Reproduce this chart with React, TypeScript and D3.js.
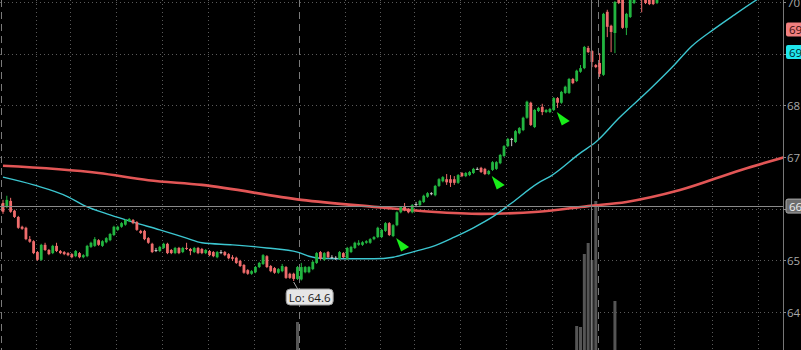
import React from 'react';
import * as d3 from 'd3';

const W = 801;
const H = 350;
const PLOT_RIGHT = 783;

// OHLC of the 5-minute candles (visible part of the chart)
const opens = [
  66.11, 66.03, 66.15, 65.96, 65.84, 65.65, 65.63, 65.41, 65.37, 65.16,
  65.01, 65.30, 65.20, 65.14, 65.28, 65.18, 65.16, 65.14, 65.12, 65.08,
  65.14, 65.06, 65.08, 65.26, 65.28, 65.39, 65.28, 65.35, 65.39, 65.49,
  65.59, 65.65, 65.69, 65.76, 65.78, 65.74, 65.57, 65.57, 65.43, 65.32,
  65.20, 65.18, 65.24, 65.32, 65.20, 65.14, 65.24, 65.16, 65.24, 65.22,
  65.16, 65.24, 65.22, 65.14, 65.18, 65.16, 65.06, 65.16, 65.16, 65.12,
  65.06, 65.05, 64.99, 64.91, 64.81, 64.74, 64.77, 64.87, 64.93, 65.08,
  64.89, 64.85, 64.76, 64.79, 64.87, 64.74, 64.74, 64.64, 64.63, 64.77,
  64.77, 64.83, 64.95, 65.16, 65.01, 65.16, 65.06, 65.05, 65.03, 65.14,
  65.03, 65.16, 65.24, 65.30, 65.30, 65.34, 65.34, 65.41, 65.45, 65.45,
  65.57, 65.72, 65.47, 65.68, 65.93, 66.05, 65.99, 65.93, 66.09, 66.07,
  66.13, 66.23, 66.30, 66.26, 66.44, 66.53, 66.57, 66.57, 66.57, 66.50,
  66.69, 66.63, 66.65, 66.69, 66.77, 66.79, 66.77, 66.67, 66.75, 66.77,
  66.88, 67.02, 67.21, 67.35, 67.29, 67.46, 67.52, 67.76, 68.05, 67.58,
  67.89, 67.97, 67.87, 67.87, 67.91, 68.14, 68.05, 68.24, 68.24, 68.51,
  68.47, 68.65, 68.72, 69.11, 69.05, 68.78, 68.82, 68.59, 69.81, 69.54,
  69.40, 70.04, 70.10, 69.50, 69.71, 69.98, 70.20, 70.30, 70.15, 70.10,
  70.08, 69.98,
];
const highs = [
  66.17, 66.25, 66.21, 65.98, 65.86, 65.67, 65.65, 65.47, 65.39, 65.18,
  65.32, 65.34, 65.22, 65.30, 65.34, 65.20, 65.18, 65.16, 65.14, 65.20,
  65.16, 65.12, 65.30, 65.36, 65.45, 65.41, 65.39, 65.45, 65.53, 65.67,
  65.67, 65.74, 65.80, 65.82, 65.80, 65.76, 65.59, 65.59, 65.45, 65.34,
  65.24, 65.28, 65.34, 65.34, 65.22, 65.26, 65.26, 65.26, 65.34, 65.24,
  65.26, 65.26, 65.24, 65.22, 65.20, 65.18, 65.18, 65.20, 65.18, 65.14,
  65.10, 65.07, 65.01, 64.93, 64.83, 64.81, 64.89, 64.97, 65.12, 65.10,
  64.91, 64.87, 64.85, 64.93, 64.89, 64.76, 64.76, 64.89, 64.95, 64.89,
  64.89, 64.99, 65.16, 65.18, 65.16, 65.18, 65.10, 65.08, 65.18, 65.16,
  65.26, 65.28, 65.36, 65.39, 65.37, 65.39, 65.43, 65.47, 65.65, 65.61,
  65.74, 65.74, 65.70, 65.95, 66.05, 66.11, 66.01, 66.09, 66.13, 66.17,
  66.27, 66.32, 66.32, 66.46, 66.59, 66.63, 66.67, 66.65, 66.63, 66.67,
  66.71, 66.71, 66.73, 66.79, 66.80, 66.81, 66.79, 66.75, 66.92, 66.92,
  67.06, 67.23, 67.37, 67.37, 67.52, 67.58, 67.78, 68.09, 68.07, 67.93,
  67.97, 68.03, 67.93, 67.95, 68.16, 68.16, 68.28, 68.38, 68.53, 68.53,
  68.69, 68.78, 69.15, 69.15, 69.07, 68.80, 69.01, 69.79, 69.85, 69.56,
  70.02, 70.10, 70.15, 69.79, 70.12, 70.20, 70.45, 70.35, 70.20, 70.15,
  70.12, 70.15,
];
const lows = [
  65.90, 66.01, 65.92, 65.82, 65.61, 65.59, 65.39, 65.34, 65.12, 64.99,
  64.99, 65.18, 65.10, 65.12, 65.16, 65.12, 65.10, 65.08, 65.04, 65.06,
  65.04, 65.04, 65.06, 65.24, 65.26, 65.28, 65.26, 65.33, 65.37, 65.47,
  65.57, 65.63, 65.67, 65.74, 65.70, 65.57, 65.51, 65.39, 65.32, 65.14,
  65.16, 65.16, 65.22, 65.12, 65.12, 65.12, 65.12, 65.14, 65.20, 65.10,
  65.14, 65.12, 65.12, 65.12, 65.08, 65.06, 65.04, 65.12, 65.08, 65.02,
  64.99, 64.93, 64.87, 64.74, 64.72, 64.72, 64.75, 64.85, 64.91, 64.85,
  64.77, 64.74, 64.74, 64.77, 64.64, 64.64, 64.60, 64.62, 64.61, 64.75,
  64.75, 64.81, 64.93, 65.01, 64.99, 65.04, 65.03, 65.01, 65.01, 65.04,
  65.01, 65.14, 65.22, 65.28, 65.28, 65.32, 65.32, 65.39, 65.43, 65.43,
  65.55, 65.47, 65.45, 65.66, 65.91, 65.95, 65.91, 65.91, 66.03, 66.05,
  66.11, 66.21, 66.26, 66.24, 66.42, 66.51, 66.46, 66.42, 66.46, 66.48,
  66.61, 66.61, 66.63, 66.67, 66.75, 66.69, 66.65, 66.65, 66.73, 66.75,
  66.86, 67.00, 67.19, 67.21, 67.27, 67.44, 67.50, 67.74, 67.60, 67.56,
  67.87, 67.81, 67.85, 67.85, 67.89, 67.95, 68.03, 68.22, 68.22, 68.41,
  68.45, 68.63, 68.70, 69.01, 68.74, 68.72, 68.55, 68.57, 69.32, 69.03,
  69.01, 69.96, 69.48, 69.36, 69.69, 69.96, 70.15, 69.80, 69.96, 69.94,
  69.94, 69.96,
];
const closes = [
  65.94, 66.17, 65.94, 65.84, 65.63, 65.61, 65.41, 65.36, 65.14, 65.01,
  65.30, 65.20, 65.12, 65.28, 65.18, 65.14, 65.12, 65.10, 65.06, 65.18,
  65.06, 65.10, 65.28, 65.34, 65.41, 65.30, 65.37, 65.43, 65.51, 65.65,
  65.65, 65.72, 65.78, 65.80, 65.72, 65.59, 65.53, 65.41, 65.34, 65.16,
  65.20, 65.26, 65.32, 65.14, 65.14, 65.24, 65.14, 65.24, 65.22, 65.18,
  65.24, 65.14, 65.14, 65.20, 65.10, 65.08, 65.16, 65.16, 65.10, 65.04,
  65.03, 64.95, 64.89, 64.76, 64.74, 64.79, 64.87, 64.95, 65.10, 64.87,
  64.79, 64.76, 64.83, 64.89, 64.66, 64.66, 64.64, 64.87, 64.87, 64.87,
  64.87, 64.97, 65.14, 65.03, 65.14, 65.06, 65.06, 65.05, 65.16, 65.06,
  65.24, 65.26, 65.34, 65.34, 65.35, 65.37, 65.41, 65.45, 65.63, 65.59,
  65.72, 65.49, 65.68, 65.93, 66.03, 65.97, 65.93, 66.07, 66.09, 66.15,
  66.25, 66.30, 66.30, 66.44, 66.57, 66.61, 66.51, 66.50, 66.50, 66.65,
  66.63, 66.69, 66.71, 66.77, 66.77, 66.71, 66.67, 66.73, 66.90, 66.90,
  67.04, 67.21, 67.35, 67.35, 67.50, 67.56, 67.76, 68.07, 67.62, 67.91,
  67.95, 67.87, 67.91, 67.93, 68.14, 68.05, 68.26, 68.36, 68.51, 68.43,
  68.67, 68.72, 69.13, 69.03, 68.84, 68.74, 68.61, 69.77, 69.52, 69.42,
  70.00, 69.98, 69.50, 69.77, 70.08, 70.10, 70.40, 70.10, 69.98, 69.96,
  69.96, 70.10,
];

// Moving averages (sampled along the bar index)
const fastMaBars = [0, 8, 17, 21, 28, 34, 41, 48, 52, 60, 69, 77, 80, 83, 91, 97, 102, 107, 112, 118, 123, 128, 133, 140, 143, 151, 155, 161, 169, 175, 180, 186, 191, 197, 204];
const fastMaValues = [66.61, 66.46, 66.23, 66.07, 65.88, 65.74, 65.59, 65.43, 65.34, 65.30, 65.24, 65.16, 65.08, 65.04, 65.03, 65.03, 65.06, 65.16, 65.26, 65.45, 65.63, 65.84, 66.11, 66.50, 66.62, 67.08, 67.29, 67.75, 68.30, 68.74, 69.14, 69.48, 69.74, 70.04, 70.35];
const slowMaBars = [0, 25, 38, 52, 78, 98, 112, 125, 140, 153, 163, 177, 193, 204];
const slowMaValues = [66.83, 66.69, 66.55, 66.46, 66.17, 66.03, 65.94, 65.90, 65.94, 66.05, 66.13, 66.36, 66.75, 66.99];

// Volume (thousands) – only the bars tall enough to show
const volumeBars = [77, 150, 151, 152, 153, 154, 155, 160];
const volumeValues = [56, 48, 46, 192, 214, 180, 298, 98];

// Buy signals (bar index)
const signalBars = [102, 127, 144];

// Time grid (between bars) and session breaks
const gridBars = [8.5, 17.5, 29.5, 41.5, 53.5, 65.5, 89.5, 98.5, 107.5, 119.5, 131.5, 143.5, 166.5, 175.5, 185.5, 197.5];
const sessionBreakBars = [-0.5, 77.5, 155.5];

const priceTicks = [64, 65, 66, 67, 68, 69, 70];
const lastPrice = 69.47;
const fastMaLast = 69.03;
const crosshairBar = 153.7;
const crosshairPrice = 66.05;

const FONT = "'Open Sans', 'Noto Sans', sans-serif";

export default function App() {
  const x = d3.scaleLinear().domain([0, 171]).range([3, 657]);
  const y = d3.scaleLinear().domain([64, 70]).range([312, 2]);
  const yVol = d3.scaleLinear().domain([0, 300]).range([H, H - 150]);

  const fastLine = d3
    .line<number>()
    .x((_, i) => x(fastMaBars[i]))
    .y((d) => y(d))
    .curve(d3.curveMonotoneX);
  const slowLine = d3
    .line<number>()
    .x((_, i) => x(slowMaBars[i]))
    .y((d) => y(d))
    .curve(d3.curveMonotoneX);

  const green = '#22b540';
  const red = '#ef6c6c';
  const doji = '#c8c8c8';

  const loIdx = d3.minIndex(lows);
  const loX = x(loIdx);
  const loY = y(lows[loIdx]);
  const loText = `Lo: ${d3.format('.1f')(lows[loIdx])}`;

  const bodyW = 2.8;

  const boxes = [
    { price: lastPrice, fill: '#f07f7f', color: '#3a0d0d', stroke: 'none' },
    { price: fastMaLast, fill: '#1fe6ec', color: '#002a2c', stroke: 'none' },
    { price: crosshairPrice, fill: '#6e6e6e', color: '#eeeeee', stroke: '#aaaaaa' },
  ];
  const visibleTicks = priceTicks.filter((p) => boxes.every((b) => Math.abs(y(p) - y(b.price)) > 10));

  return (
    <svg
      width={W}
      height={H}
      style={{ position: 'absolute', left: 0, top: 0, display: 'block', background: '#000' }}
    >
      <defs>
        <clipPath id="plot">
          <rect x={0} y={0} width={PLOT_RIGHT} height={H} />
        </clipPath>
        <clipPath id="axis">
          <rect x={PLOT_RIGHT} y={0} width={W - PLOT_RIGHT} height={H} />
        </clipPath>
      </defs>
      <rect x={0} y={0} width={W} height={H} fill="#000" />

      <g clipPath="url(#plot)">
        {priceTicks.map((p) => (
          <line key={'hg' + p} x1={0} x2={PLOT_RIGHT} y1={Math.round(y(p)) + 0.5} y2={Math.round(y(p)) + 0.5}
            stroke="#5a5a5a" strokeWidth={1} strokeDasharray="1,3" />
        ))}
        {gridBars.map((b) => (
          <line key={'vg' + b} x1={Math.round(x(b)) + 0.5} x2={Math.round(x(b)) + 0.5} y1={0} y2={H}
            stroke="#5a5a5a" strokeWidth={1} strokeDasharray="1,3" />
        ))}
        {sessionBreakBars.map((b) => (
          <line key={'sb' + b} x1={Math.round(x(b)) + 0.5} x2={Math.round(x(b)) + 0.5} y1={0} y2={H}
            stroke="#7a7a7a" strokeWidth={1} strokeDasharray="7,5" />
        ))}

        {volumeBars.map((b, i) => (
          <rect key={'v' + b} x={x(b) - 1.5} width={3} y={yVol(volumeValues[i])}
            height={yVol(0) - yVol(volumeValues[i])} fill="#555" />
        ))}

        <path d={slowLine(slowMaValues) || ''} fill="none" stroke="#e25656" strokeWidth={2.6} />
        <path d={fastLine(fastMaValues) || ''} fill="none" stroke="#3cc6d0" strokeWidth={1.4} />

        {opens.map((o, i) => {
          const c = closes[i];
          const col = Math.abs(o - c) < 0.005 ? doji : c > o ? green : red;
          const cx = x(i);
          const top = y(Math.max(o, c));
          const bot = y(Math.min(o, c));
          return (
            <g key={'c' + i}>
              <line x1={cx} x2={cx} y1={y(highs[i])} y2={y(lows[i])} stroke={col} strokeWidth={1} />
              <rect x={cx - bodyW / 2} y={top} width={bodyW} height={Math.max(1, bot - top)} fill={col} />
            </g>
          );
        })}

        {signalBars.map((b) => {
          const ax = x(b) + 3;
          const ay = y(lows[b]) + 1;
          return (
            <polygon key={'s' + b}
              points={`${ax},${ay} ${ax + 5},${ay + 13.5} ${ax + 13},${ay + 9}`}
              fill="#19ee19" />
          );
        })}

        <line x1={0} x2={PLOT_RIGHT} y1={Math.round(y(crosshairPrice)) + 0.5} y2={Math.round(y(crosshairPrice)) + 0.5}
          stroke="#8a8a8a" strokeWidth={1} />
        <line x1={Math.round(x(crosshairBar)) + 0.5} x2={Math.round(x(crosshairBar)) + 0.5} y1={0} y2={H}
          stroke="#7a7a7a" strokeWidth={1} />

        <line x1={loX} y1={loY + 1} x2={loX + 4} y2={loY + 8} stroke="#aaa" strokeWidth={1} />
        <rect x={loX - 7.5} y={loY + 8} width={47} height={16} rx={4} fill="#e6e6e6" stroke="#9a9a9a" />
        <text x={loX + 16} y={loY + 16.5} textAnchor="middle" dominantBaseline="central"
          fontFamily={FONT} fontSize={11.5} fill="#1a1a1a">{loText}</text>
      </g>

      <line x1={PLOT_RIGHT + 0.5} x2={PLOT_RIGHT + 0.5} y1={0} y2={H} stroke="#777" strokeWidth={1} />
      {priceTicks.map((p) => (
        <line key={'tk' + p} x1={PLOT_RIGHT} x2={PLOT_RIGHT + 3} y1={Math.round(y(p)) + 0.5} y2={Math.round(y(p)) + 0.5} stroke="#888" />
      ))}
      <g clipPath="url(#axis)">
        {visibleTicks.map((p) => (
          <text key={'t' + p} x={787} y={y(p)} dominantBaseline="central" fontFamily={FONT} fontSize={11.5} fill="#a8a8a8">{p}</text>
        ))}
        {boxes.map((b, i) => (
          <g key={'b' + i}>
            <rect x={786} y={y(b.price) - 7} width={20} height={14} rx={2} fill={b.fill} stroke={b.stroke} />
            <text x={789} y={y(b.price)} dominantBaseline="central" fontFamily={FONT} fontSize={11.5} fill={b.color}>
              {Math.floor(b.price)}
            </text>
          </g>
        ))}
      </g>
    </svg>
  );
}
